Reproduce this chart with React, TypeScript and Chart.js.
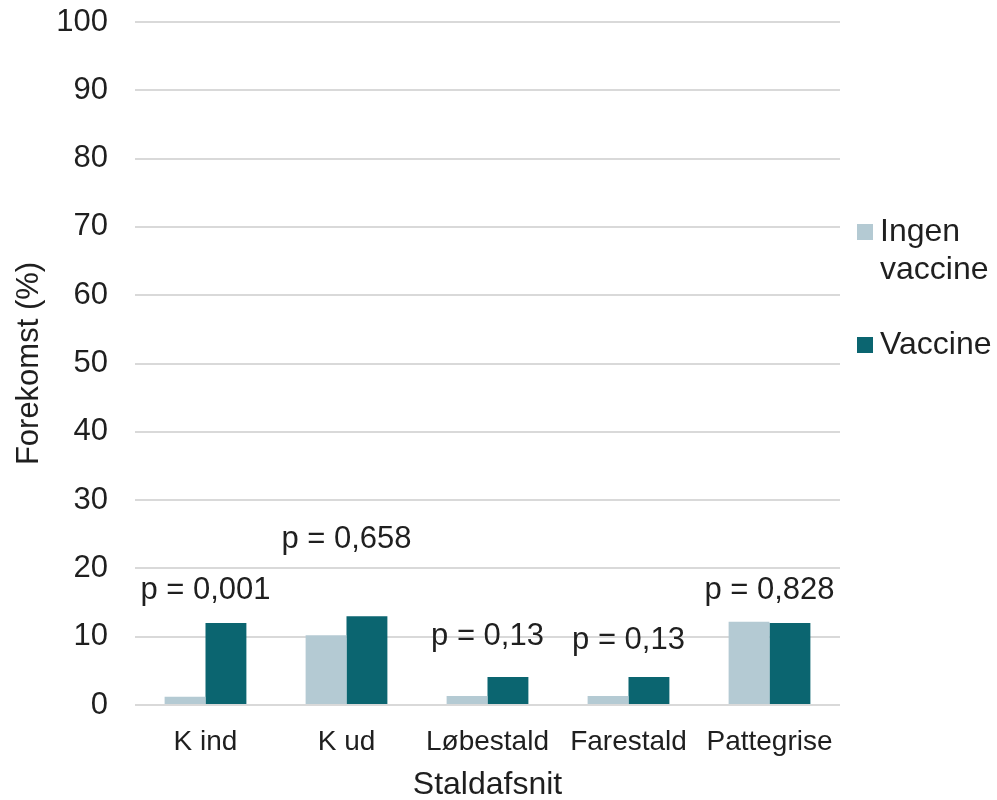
import React, { useEffect, useRef } from "react";
import { Chart, registerables } from "chart.js";

Chart.register(...registerables);

const categories = ["K ind", "K ud", "Løbestald", "Farestald", "Pattegrise"];
const ingenVaccine = [1.2, 10.2, 1.3, 1.3, 12.2];
const vaccine = [12.0, 13.0, 4.1, 4.1, 12.0];
const pLabels = ["p = 0,001", "p = 0,658", "p = 0,13", "p = 0,13", "p = 0,828"];
const pLabelLevel = [16.8, 24.2, 10.0, 9.4, 16.8];
const seriesNames = [["Ingen", "vaccine"], ["Vaccine"]];
const colors = ["#B4CAD3", "#0B6570"];

const FONT = "'Liberation Sans', Arial, sans-serif";

export default function App() {
  const ref = useRef<HTMLCanvasElement | null>(null);
  useEffect(() => {
    if (!ref.current) return;
    const annotate = {
      id: "annotate",
      afterDraw(chart: any) {
        const ctx = chart.ctx;
        const xs = chart.scales.x;
        const ys = chart.scales.y;
        ctx.save();
        ctx.fillStyle = "#1f1f1f";
        ctx.font = `31px ${FONT}`;
        ctx.textAlign = "center";
        ctx.textBaseline = "middle";
        pLabels.forEach((t, i) => {
          ctx.fillText(t, xs.getPixelForValue(i), ys.getPixelForValue(pLabelLevel[i]));
        });
        // legend
        const lx = chart.chartArea.right + 17;
        const items = [232, 345];
        ctx.textAlign = "left";
        ctx.font = `32px ${FONT}`;
        items.forEach((cy, i) => {
          ctx.fillStyle = colors[i];
          ctx.fillRect(lx, cy - 8, 16, 16);
          ctx.fillStyle = "#1f1f1f";
          seriesNames[i].forEach((line, j) => {
            ctx.fillText(line, lx + 23, cy + j * 38);
          });
        });
        ctx.restore();
      },
    };
    const chart = new Chart(ref.current, {
      type: "bar",
      data: {
        labels: categories,
        datasets: [
          { label: "Ingen vaccine", data: ingenVaccine, backgroundColor: colors[0] },
          { label: "Vaccine", data: vaccine, backgroundColor: colors[1] },
        ],
      },
      options: {
        animation: false,
        responsive: false,
        maintainAspectRatio: false,
        layout: { padding: { top: 22, right: 157, left: 0, bottom: 0 } },
        plugins: { legend: { display: false }, tooltip: { enabled: false } },
        datasets: { bar: { categoryPercentage: 0.58, barPercentage: 1.0 } },
        scales: {
          x: {
            grid: { display: false },
            border: { display: false },
            ticks: { color: "#1f1f1f", font: { family: FONT, size: 28 }, padding: 12, maxRotation: 0 },
            title: { display: true, text: "Staldafsnit", color: "#1f1f1f", font: { family: FONT, size: 32 }, padding: { top: 0, bottom: -4 } },
            afterFit(scale: any) { scale.height = 95; scale.paddingLeft = 0; scale.paddingRight = 0; },
          },
          y: {
            min: 0,
            max: 100,
            ticks: { stepSize: 10, color: "#1f1f1f", font: { family: FONT, size: 31 }, padding: 27 },
            grid: { color: "#D9D9D9", lineWidth: 2, drawTicks: false },
            border: { display: false },
            title: { display: true, text: "Forekomst (%)", color: "#1f1f1f", font: { family: FONT, size: 31 }, padding: { top: 11, bottom: 0 } },
            afterFit(scale: any) { scale.width = 135; scale.paddingTop = 0; scale.paddingBottom = 0; },
          },
        },
      },
      plugins: [annotate],
    } as any);
    return () => chart.destroy();
  }, []);
  return (
    <div style={{ position: "absolute", left: 0, top: 0, width: 997, height: 800, background: "#fff" }}>
      <canvas ref={ref} width={997} height={800} style={{ width: 997, height: 800 }} />
    </div>
  );
}
